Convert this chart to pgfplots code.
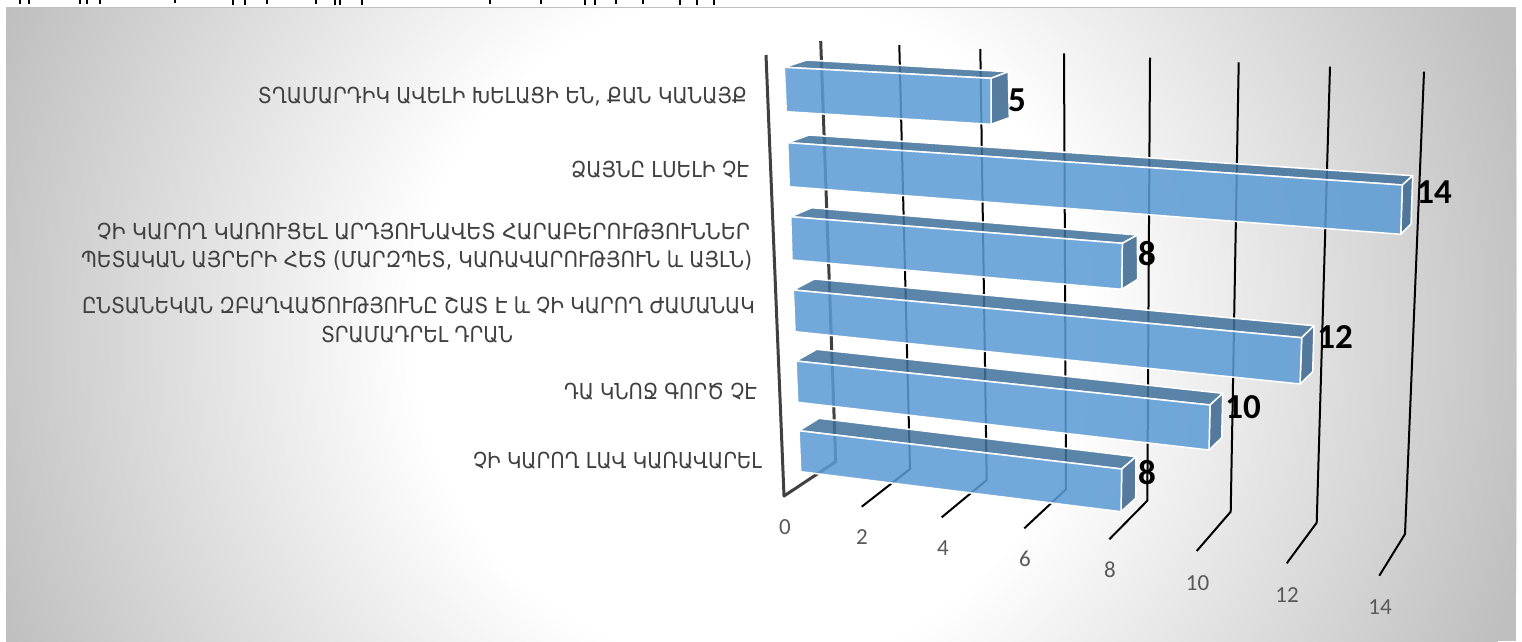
\documentclass[border=0pt]{standalone}
\usepackage{pgfplots}
\pgfplotsset{compat=1.18}
\usepackage{graphicx}
\usepackage{fontspec}
\setmainfont{Carlito}
\newfontfamily\arm{DejaVu Sans}
\definecolor{frontc}{HTML}{5B9BD5}
\definecolor{topc}{HTML}{41719C}
\definecolor{endc}{HTML}{3F6A92}
\definecolor{wallc}{HTML}{404040}
\definecolor{tickc}{HTML}{595959}
\definecolor{catc}{HTML}{404040}
\definecolor{bgedge}{HTML}{BFBFBF}
\newcommand{\cat}[4]{\node[text=catc,inner sep=0pt,anchor=center] at (axis cs:#1,#2) {\resizebox{#3pt}{\height}{\fontsize{22}{25}\arm #4}};}
\newcommand{\val}[3]{\node[inner sep=0pt,anchor=center,font=\fontsize{35}{40}\selectfont\bfseries] at (axis cs:#1,#2) {#3};}
\newcommand{\tck}[3]{\node[inner sep=0pt,anchor=center,text=tickc,font=\fontsize{23}{26}\selectfont] at (axis cs:#1,#2) {#3};}
\begin{document}
\begin{tikzpicture}
\begin{axis}[
  name=ax,
  scale only axis, width=1522pt, height=641pt,
  xmin=0, xmax=1522, ymin=0, ymax=641, y dir=reverse,
  hide axis,
  grid line/.style={black,line width=2pt,line join=round,forget plot},
  front/.style={fill=frontc,fill opacity=.86,draw=white,draw opacity=1,line width=1.5pt,line join=round},
  topf/.style={fill=topc,fill opacity=.86,draw=white,draw opacity=1,line width=1.5pt,line join=round},
  endf/.style={fill=endc,fill opacity=.88,draw=white,draw opacity=1,line width=1.5pt,line join=round},
]
% background: radial gradient, white centre to grey corners
\begin{scope}
\clip (axis cs:6,8) rectangle (axis cs:1516,641);
\fill[bgedge] (axis cs:6,8) rectangle (axis cs:1516,641);
\pgfplotsforeachungrouped \g in {191,...,255}{%
  \pgfmathsetmacro{\r}{810-(\g-191)*7.344}%
  \edef\temp{\noexpand\fill[fill={rgb,255:red,\g;green,\g;blue,\g}] (axis cs:750,330) circle [radius=\r];}%
  \temp
}
\end{scope}
\addplot[color=black!25,line width=1pt] coordinates {(6,7.5)(1516,7.5)};
% clipped remains of a line of text above the picture
\addplot[ycomb,black,line width=1.2pt,no marks] coordinates {(20,4)(29,4)(80,4)(87,4)(100,4)(175,3)(233,5)(245,5)(267,4)(316,4)(335,5)(340,5)(362,5)(490,4)(541,4)(585,5)(595,5)(616,4)(643,4)(680,5)(697,5)(714,5)};
% value axis: floor ticks and wall lines
\addplot[wallc,line width=3pt,line join=round] coordinates {(766,55)(784,496)(835.7,461.7)(820.7,41)};
\addplot[grid line] coordinates {(861.7,506.7)(910,469)(899.3,45)};
\addplot[grid line] coordinates {(941.7,517.3)(986.7,480)(980.3,49)};
\addplot[grid line] coordinates {(1024.3,528.3)(1066,489.3)(1064,53.3)};
\addplot[grid line] coordinates {(1109.3,539.3)(1147.3,500.7)(1150,57.5)};
\addplot[grid line] coordinates {(1196.7,551)(1230.7,511.7)(1238.7,62.3)};
\addplot[grid line] coordinates {(1286.7,563.3)(1316.7,522.7)(1330,66.7)};
\addplot[grid line] coordinates {(1379.3,575.7)(1405,534)(1424,71.7)};
% bar 1, value 5
\addplot[topf] coordinates {(784.3,67.3)(806.7,60)(1008.3,71.7)(991,78.3)} -- cycle;
\addplot[endf] coordinates {(991,78.3)(1008.3,71.7)(1009.3,117.7)(991,124.3)} -- cycle;
\addplot[front] coordinates {(784.3,67.3)(991,78.3)(991,124.3)(786.3,111.7)} -- cycle;
% bar 2, value 14
\addplot[topf] coordinates {(787.7,142.7)(809,135)(1412.7,175.7)(1402.3,185)} -- cycle;
\addplot[endf] coordinates {(1402.3,185)(1412.7,175.7)(1411,224)(1400.7,234.3)} -- cycle;
\addplot[front] coordinates {(787.7,142.7)(1402.3,185)(1400.7,234.3)(789.3,186.7)} -- cycle;
% bar 3, value 8
\addplot[topf] coordinates {(790.7,216.7)(811.7,207.7)(1137.3,235)(1122.3,243.3)} -- cycle;
\addplot[endf] coordinates {(1122.3,243.3)(1137.3,235)(1137.7,279.3)(1121.7,289.3)} -- cycle;
\addplot[front] coordinates {(790.7,216.7)(1122.3,243.3)(1121.7,289.3)(792,260)} -- cycle;
% bar 4, value 12
\addplot[topf] coordinates {(793.3,290)(814.3,279)(1314,325.7)(1301.7,337.7)} -- cycle;
\addplot[endf] coordinates {(1301.7,337.7)(1314,325.7)(1312.7,371.7)(1300,384)} -- cycle;
\addplot[front] coordinates {(793.3,290)(1301.7,337.7)(1300,384)(795,331.7)} -- cycle;
% bar 5, value 10
\addplot[topf] coordinates {(796,361)(816.7,349.3)(1222.7,393.3)(1210,405)} -- cycle;
\addplot[endf] coordinates {(1210,405)(1222.7,393.3)(1221.7,437.7)(1209,450)} -- cycle;
\addplot[front] coordinates {(796,361)(1210,405)(1209,450)(797.7,402.3)} -- cycle;
% bar 6, value 8
\addplot[topf] coordinates {(799,430.7)(819,418.3)(1136,456.7)(1121.7,469)} -- cycle;
\addplot[endf] coordinates {(1121.7,469)(1136,456.7)(1135.7,498.3)(1121,511.7)} -- cycle;
\addplot[front] coordinates {(799,430.7)(1121.7,469)(1121,511.7)(800.7,471.7)} -- cycle;
% value labels
\val{1017}{100}{5}
\val{1434}{192}{14}
\val{1147}{254}{8}
\val{1335}{337}{12}
\val{1243}{407}{10}
\val{1147}{473}{8}
% tick labels
\tck{785}{527}{0}
\tck{862}{537}{2}
\tck{943}{548}{4}
\tck{1025}{559}{6}
\tck{1110}{570}{8}
\tck{1197.5}{583}{10}
\tck{1287}{595}{12}
\tck{1380}{607}{14}
% category labels
\cat{502.5}{97}{489}{ՏՂԱՄԱՐԴԻԿ ԱՎԵԼԻ ԽԵԼԱՑԻ ԵՆ, ՔԱՆ ԿԱՆԱՅՔ}
\cat{660}{170}{178}{ՁԱՅՆԸ ԼՍԵԼԻ ՉԷ}
\cat{423.5}{232}{653}{ՉԻ ԿԱՐՈՂ ԿԱՌՈՒՑԵԼ ԱՐԴՅՈՒՆԱՎԵՏ ՀԱՐԱԲԵՐՈՒԹՅՈՒՆՆԵՐ}
\cat{416.5}{261}{671}{ՊԵՏԱԿԱՆ ԱՅՐԵՐԻ ՀԵՏ (ՄԱՐԶՊԵՏ, ԿԱՌԱՎԱՐՈՒԹՅՈՒՆ և ԱՅԼՆ)}
\cat{418.5}{305}{673}{ԸՆՏԱՆԵԿԱՆ ԶԲԱՂՎԱԾՈՒԹՅՈՒՆԸ ՇԱՏ Է և ՉԻ ԿԱՐՈՂ ԺԱՄԱՆԱԿ}
\cat{417}{335}{192}{ՏՐԱՄԱԴՐԵԼ ԴՐԱՆ}
\cat{660.5}{392}{193}{ԴԱ ԿՆՈՋ ԳՈՐԾ ՉԷ}
\cat{617.5}{461}{289}{ՉԻ ԿԱՐՈՂ ԼԱՎ ԿԱՌԱՎԱՐԵԼ}
\end{axis}
\pgfresetboundingbox
\path[use as bounding box] (ax.south west) rectangle (ax.north east);
\end{tikzpicture}
\end{document}
